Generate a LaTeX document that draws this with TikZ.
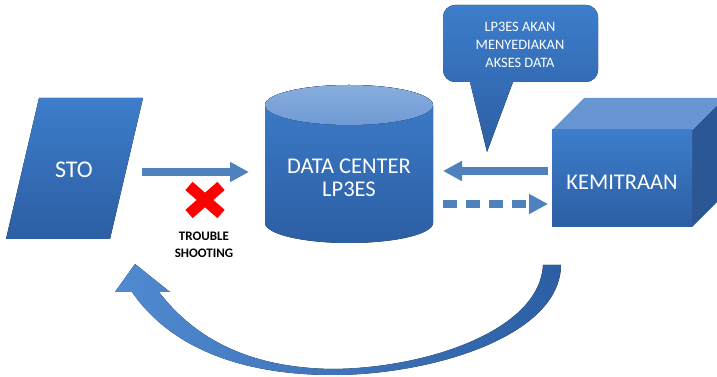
\documentclass[tikz,border=0pt]{standalone}
\usepackage{fontspec}
\setmainfont{Carlito}
\usetikzlibrary{arrows.meta}
\definecolor{arrowblue}{HTML}{4F81BD}
\definecolor{btop}{HTML}{3D7DCB}
\definecolor{bbot}{HTML}{2C5EA3}
\definecolor{ltop}{HTML}{88AEDF}
\definecolor{lbot}{HTML}{6F9AD3}
\definecolor{cubetop}{HTML}{6796D3}
\definecolor{cuberight}{HTML}{2B5795}
\tikzset{
  x=1pt, y=1pt,
  blueshape/.style={top color=btop, bottom color=bbot, draw=none},
  lbl/.style={text=white, align=center, font=\fontsize{22.5}{23}\selectfont},
  fatarrow/.style={draw=arrowblue, line width=8pt, -{Triangle[length=19pt,width=19pt]}},
  fatdash/.style={draw=arrowblue, line width=8pt, dash pattern=on 14pt off 9pt, -{Triangle[length=19pt,width=19pt]}},
}
\begin{document}
\begin{tikzpicture}
\useasboundingbox (0,0) rectangle (717,377);
% STO parallelogram
\fill[blueshape] (6,138) -- (110,138) -- (143,279) -- (39,279) -- cycle;
\node[lbl, font=\fontsize{24}{26}\selectfont] (sto) at (74,207) {STO};
% Data center cylinder
\fill[blueshape] (265,272) -- (265,154) arc[start angle=180,end angle=360,x radius=84,y radius=20] -- (433,272) arc[start angle=0,end angle=180,x radius=84,y radius=20] -- cycle;
\fill[top color=ltop, bottom color=lbot] (349,272) ellipse[x radius=84, y radius=20];
\node[lbl] (dc) at (349,199) {DATA CENTER\\LP3ES};
% Kemitraan cube
\fill[cuberight] (692,247) -- (724,279) -- (724,182) -- (692,150) -- cycle;
\fill[cubetop] (552,247) -- (584,279) -- (724,279) -- (692,247) -- cycle;
\fill[blueshape] (552,150) rectangle (692,247);
\node[lbl, font=\fontsize{22.5}{24}\selectfont] (kem) at (622,195) {KEMITRAAN};
% Callout
\fill[top color=btop, bottom color=bbot]
  (487,225) -- (513,295) [rounded corners=12pt] -- (598,295) -- (598,372) -- (443,372) -- (443,295) [sharp corners] -- (470,295) -- cycle;
\node[text=white, align=center, font=\fontsize{14.4}{18}\selectfont] (call) at (520,332) {LP3ES AKAN\\MENYEDIAKAN\\AKSES DATA};
% Arrows
\coordinate (a1s) at (142,205);
\coordinate (a1e) at (249,205);
\draw[fatarrow] (a1s) -- (a1e);
\coordinate (a2s) at (548,206);
\coordinate (a2e) at (443,206);
\draw[fatarrow] (a2s) -- (a2e);
\coordinate (a3s) at (443,173);
\coordinate (a3e) at (548,173);
\draw[fatdash] (a3s) -- (a3e);
% Red cross
\draw[red, line width=11pt] (189,163) -- (221,191);
\draw[red, line width=11pt] (189,191) -- (221,163);
\node[font=\bfseries\fontsize{13}{16.5}\selectfont, align=center] (ts) at (204,132) {TROUBLE\\SHOOTING};
% Curved return arrow
\fill[left color=btop!90!white, right color=bbot]
  (561,112) .. controls (560,40) and (430,2) .. (333,2)
  .. controls (240,2) and (170,30) .. (132,85)
  -- (115,85) -- (135,113) -- (170,85) -- (159,85)
  .. controls (195,38) and (250,9) .. (333,8)
  .. controls (430,9) and (540,48) .. (543,112) -- cycle;
\end{tikzpicture}
\end{document}
